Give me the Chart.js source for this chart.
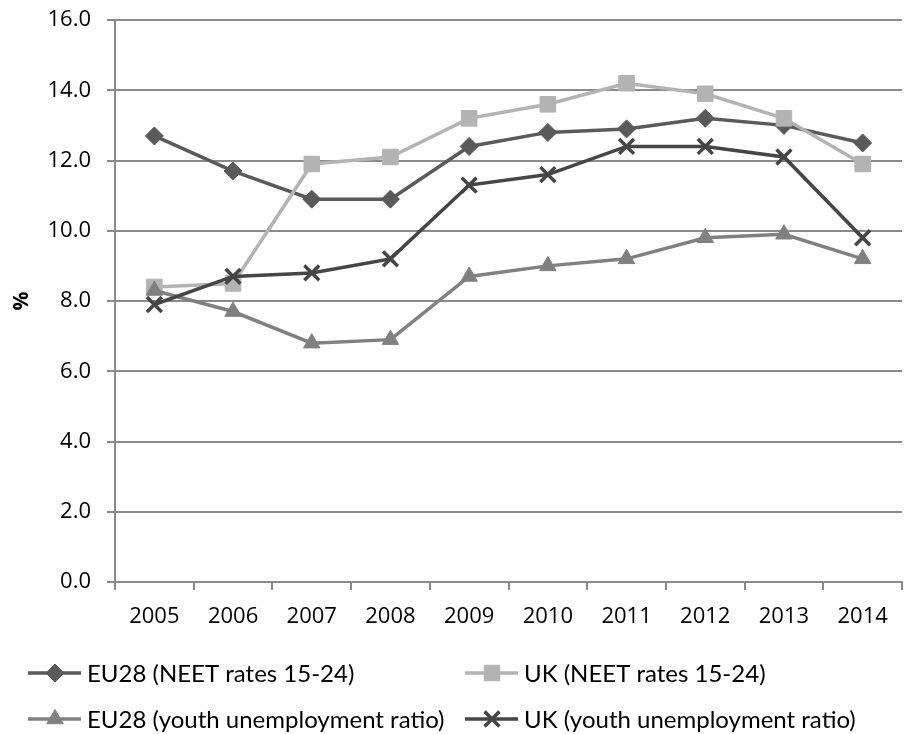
<!DOCTYPE html>
<html>
<head>
<meta charset="utf-8">
<script src="https://cdn.jsdelivr.net/npm/chart.js@4/dist/chart.umd.min.js"></script>
<style>
  html, body { margin: 0; padding: 0; background: #fff; }
  #wrap { width: 908px; height: 734px; overflow: hidden; position: relative; }
  canvas { display: block; }
</style>
</head>
<body>
<div id="wrap"><canvas id="chart" width="916" height="734"></canvas></div>
<script>
const years = ['2005', '2006', '2007', '2008', '2009', '2010', '2011', '2012', '2013', '2014'];
const eu28Neet = [12.7, 11.7, 10.9, 10.9, 12.4, 12.8, 12.9, 13.2, 13.0, 12.5];
const ukNeet = [8.4, 8.5, 11.9, 12.1, 13.2, 13.6, 14.2, 13.9, 13.2, 11.9];
const eu28Youth = [8.3, 7.7, 6.8, 6.9, 8.7, 9.0, 9.2, 9.8, 9.9, 9.2];
const ukYouth = [7.9, 8.7, 8.8, 9.2, 11.3, 11.6, 12.4, 12.4, 12.1, 9.8];
const seriesNames = ['EU28 (NEET rates 15-24)', 'UK (NEET rates 15-24)',
  'EU28 (youth unemployment ratio)', 'UK (youth unemployment ratio)'];

const gridGray = '#8a8a8a';
const tickFont = { family: 'Open Sans', size: 22 };

function series(label, data, color, style, radius, order) {
  return {
    label: label,
    data: data,
    borderColor: color,
    backgroundColor: color,
    pointBackgroundColor: color,
    pointBorderColor: color,
    borderWidth: 3.5,
    pointStyle: style,
    pointRadius: radius,
    pointHoverRadius: radius,
    pointBorderWidth: style === 'crossRot' ? 3.5 : 1,
    tension: 0,
    fill: false,
    order: order,
  };
}

// legend with a short line and the marker, two columns like the original
const lineLegend = {
  id: 'lineLegend',
  afterDraw(chart) {
    const ctx = chart.ctx;
    const cols = [28, 465];
    const rows = [673, 719];
    chart.data.datasets.forEach((ds, i) => {
      const x0 = cols[i % 2];
      const y = rows[Math.floor(i / 2)];
      ctx.save();
      ctx.strokeStyle = ds.borderColor;
      ctx.fillStyle = ds.borderColor;
      ctx.lineWidth = 3.5;
      ctx.beginPath();
      ctx.moveTo(x0, y);
      ctx.lineTo(x0 + 53, y);
      ctx.stroke();
      ctx.lineWidth = ds.pointBorderWidth;
      Chart.helpers.drawPoint(ctx, {
        pointStyle: ds.pointStyle,
        radius: ds.pointRadius,
        borderWidth: ds.pointBorderWidth,
        rotation: 0,
      }, x0 + 27, y);
      ctx.fillStyle = '#000';
      ctx.font = '24px Lato';
      ctx.textBaseline = 'middle';
      ctx.textAlign = 'left';
      ctx.fillText(ds.label, x0 + 59, y + 1);
      ctx.restore();
    });
  }
};

new Chart(document.getElementById('chart'), {
  type: 'line',
  data: {
    labels: years,
    datasets: [
      series(seriesNames[0], eu28Neet, '#5a5a5a', 'rectRot', 9, 3),
      series(seriesNames[1], ukNeet, '#b3b3b3', 'rect', 11, 2),
      series(seriesNames[2], eu28Youth, '#808080', 'triangle', 9.5, 1),
      series(seriesNames[3], ukYouth, '#454545', 'crossRot', 10.5, 0),
    ],
  },
  options: {
    responsive: false,
    animation: false,
    layout: { padding: { top: 20, right: 1, bottom: 100, left: 0 } },
    plugins: {
      legend: { display: false },
      tooltip: { enabled: false },
    },
    scales: {
      x: {
        offset: true,
        grid: {
          drawOnChartArea: false,
          offset: true,
          color: gridGray,
          lineWidth: 2,
          tickLength: 8,
        },
        border: { color: gridGray, width: 2 },
        ticks: { color: '#000', font: tickFont, padding: 14, maxRotation: 0 },
        afterFit(scale) {
          scale.height = 52;
          scale.paddingLeft = 0;
          scale.paddingRight = 0;
        },
      },
      y: {
        min: 0,
        max: 16,
        grid: { color: gridGray, lineWidth: 2, tickLength: 8 },
        border: { color: gridGray, width: 2 },
        ticks: {
          stepSize: 2,
          color: '#000',
          font: tickFont,
          padding: 16,
          callback: (v) => v.toFixed(1),
        },
        title: {
          display: true,
          text: '%',
          color: '#000',
          font: { family: 'Open Sans', size: 21, weight: 'bold' },
          padding: { top: 9, bottom: 0 },
        },
        afterFit(scale) {
          scale.width = 115;
          scale.paddingTop = 0;
          scale.paddingBottom = 0;
        },
      },
    },
  },
  plugins: [lineLegend],
});
</script>
</body>
</html>
